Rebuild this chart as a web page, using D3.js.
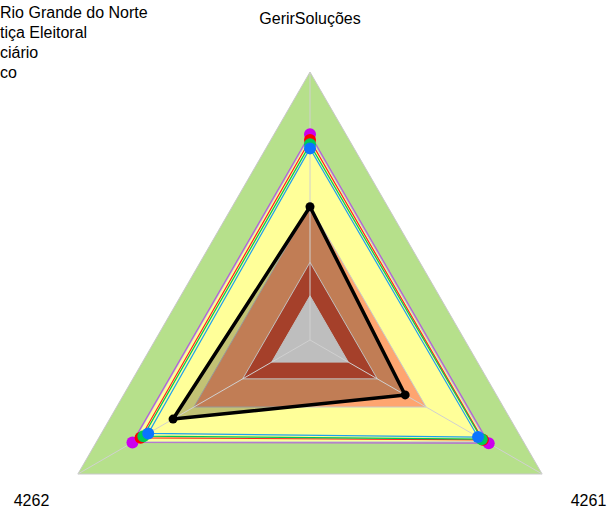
<!DOCTYPE html>
<html><head><meta charset="utf-8">
<script src="https://cdn.jsdelivr.net/npm/d3@7"></script>
<style>body{margin:0;background:#fff}svg{display:block}text{font-family:Arial,"Liberation Sans",sans-serif;font-size:16px;fill:#000}</style>
</head><body>
<svg id="chart" width="608" height="513"></svg>
<script>
// axes (counter-clockwise from top)
const axes = ["GerirSoluções", "4262", "4261"];
// series values (percent of max)
const magentaVals = [76.8, 76.5, 77.0];
const redVals     = [74.6, 73.0, 74.5];
const greenVals   = [73.0, 71.8, 74.0];
const blueVals    = [71.5, 69.7, 72.4];
const blackVals   = [49.7, 59.0, 41.0];
// background bands (outer radius, percent)
const bandLevels  = [100, 76, 50];
const bandColors  = ["#B6E08B", "#FFFF99", "#FEA570"];
const innerLevels = [29, 16.5];
const innerColors = ["#A5402A", "#BEBEBE"];
// legend labels (visible text)
const legendLabels = ["Rio Grande do Norte", "tiça Eleitoral", "ciário", "co"];

const svg = d3.select("#chart");
const cx = 310, cy = 340;
const r = d3.scaleLinear().domain([0, 100]).range([0, 268]);
const ang = i => Math.PI / 2 + i * 2 * Math.PI / axes.length;
const pt = (v, i) => [cx + r(v) * Math.cos(ang(i)), cy - r(v) * Math.sin(ang(i))];
const poly = vals => vals.map((v, i) => pt(v, i));
const line = d3.line().curve(d3.curveLinearClosed);

bandLevels.forEach((lv, k) => {
  svg.append("path").attr("d", line(poly(axes.map(() => lv))))
    .attr("fill", bandColors[k]).attr("stroke", "#c8c8c8").attr("stroke-width", 1);
});
// black series fill (semi-transparent)
svg.append("path").attr("d", line(poly(blackVals)))
  .attr("fill", "rgba(0,0,0,0.24)").attr("stroke", "none");
innerLevels.forEach((lv, k) => {
  svg.append("path").attr("d", line(poly(axes.map(() => lv))))
    .attr("fill", innerColors[k]).attr("stroke", "#c0c0c0").attr("stroke-width", 1);
});
// axis lines
axes.forEach((a, i) => {
  const p = pt(100, i);
  svg.append("line").attr("x1", cx).attr("y1", cy).attr("x2", p[0]).attr("y2", p[1])
    .attr("stroke", "#d0d0d0").attr("stroke-width", 1);
});
// colored series
const colored = [
  {vals: magentaVals, line: "#B45AE0", pt: "#CC00EE"},
  {vals: redVals, line: "#FF2020", pt: "#FF0000"},
  {vals: greenVals, line: "#00C850", pt: "#00CC55"},
  {vals: blueVals, line: "#1EA0F0", pt: "#0A74FF"}
];
colored.forEach(s => {
  svg.append("path").attr("d", line(poly(s.vals)))
    .attr("fill", "none").attr("stroke", s.line).attr("stroke-width", 1.2);
});
colored.forEach(s => {
  svg.selectAll(null).data(poly(s.vals)).enter().append("circle")
    .attr("cx", d => d[0]).attr("cy", d => d[1]).attr("r", 6).attr("fill", s.pt);
});
// black series
svg.append("path").attr("d", line(poly(blackVals)))
  .attr("fill", "none").attr("stroke", "#000").attr("stroke-width", 3.5).attr("stroke-linejoin", "round");
svg.selectAll(null).data(poly(blackVals)).enter().append("circle")
  .attr("cx", d => d[0]).attr("cy", d => d[1]).attr("r", 4.5).attr("fill", "#000");
// axis labels
axes.forEach((a, i) => {
  const p = pt(120, i);
  svg.append("text").attr("x", p[0]).attr("y", p[1] + 5.5).attr("text-anchor", "middle").text(a);
});
// legend
legendLabels.forEach((t, k) => {
  svg.append("text").attr("x", 0).attr("y", 18 + k * 20).text(t);
});
</script>
</body></html>
